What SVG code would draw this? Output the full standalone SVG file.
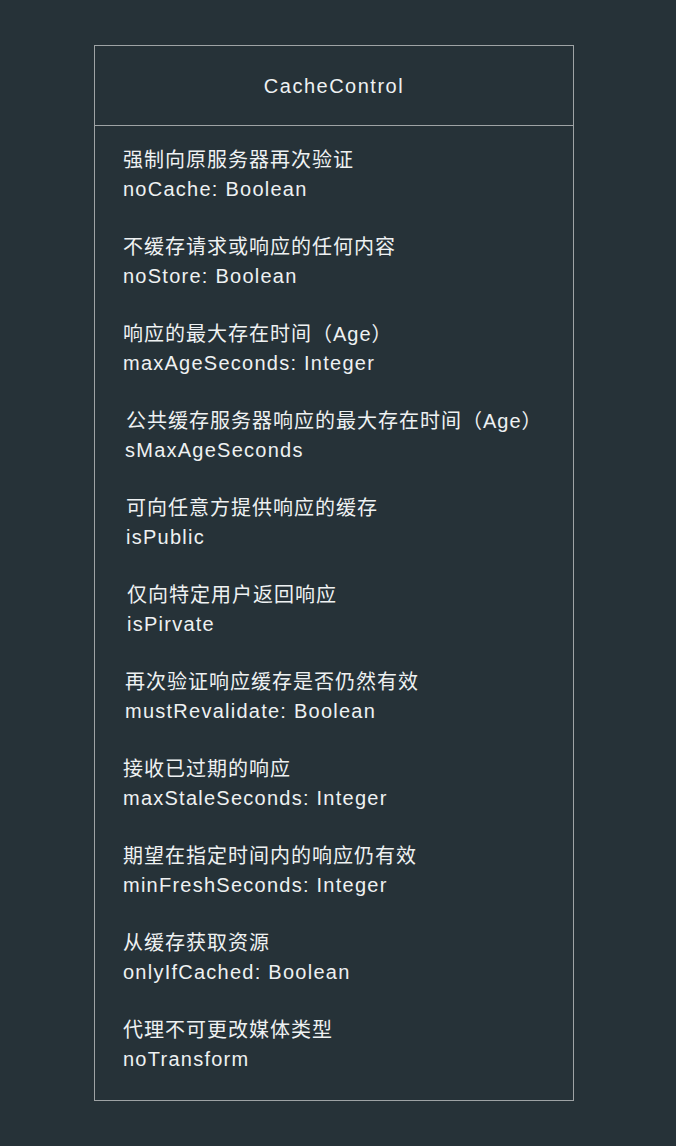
<svg xmlns="http://www.w3.org/2000/svg" width="676" height="1146" viewBox="0 0 676 1146">
<style>
.bg{fill:#263238}
.box{fill:none;stroke:#9ea3a5;stroke-width:1}
text{fill:#eef1f2;font-family:"Liberation Sans","Noto Sans CJK SC",sans-serif;font-size:20px}
.zh{letter-spacing:1px}
.en{letter-spacing:1.25px}
.title{letter-spacing:1.5px}
</style>
<rect class="bg" x="0" y="0" width="676" height="1146"/>
<g id="CacheControl">
<rect class="box" x="94.5" y="45.5" width="479" height="1055"/>
<line class="box" x1="94.5" y1="125.5" x2="573.5" y2="125.5"/>
<text class="title" x="334" y="93" text-anchor="middle">CacheControl</text>
<text class="zh" x="123" y="167">强制向原服务器再次验证</text>
<text class="en" x="123" y="196">noCache: Boolean</text>
<text class="zh" x="123" y="254">不缓存请求或响应的任何内容</text>
<text class="en" x="123" y="283">noStore: Boolean</text>
<text class="zh" x="123" y="341">响应的最大存在时间（Age）</text>
<text class="en" x="123" y="370">maxAgeSeconds: Integer</text>
<text class="zh" x="126" y="428">公共缓存服务器响应的最大存在时间（Age）</text>
<text class="en" x="125" y="457">sMaxAgeSeconds</text>
<text class="zh" x="126" y="515">可向任意方提供响应的缓存</text>
<text class="en" x="126" y="544">isPublic</text>
<text class="zh" x="127" y="602">仅向特定用户返回响应</text>
<text class="en" x="127" y="631">isPirvate</text>
<text class="zh" x="125" y="689">再次验证响应缓存是否仍然有效</text>
<text class="en" x="125" y="718">mustRevalidate: Boolean</text>
<text class="zh" x="123" y="776">接收已过期的响应</text>
<text class="en" x="123" y="805">maxStaleSeconds: Integer</text>
<text class="zh" x="123" y="863">期望在指定时间内的响应仍有效</text>
<text class="en" x="123" y="892">minFreshSeconds: Integer</text>
<text class="zh" x="123" y="950">从缓存获取资源</text>
<text class="en" x="123" y="979">onlyIfCached: Boolean</text>
<text class="zh" x="123" y="1037">代理不可更改媒体类型</text>
<text class="en" x="123" y="1066">noTransform</text>
</g>
<g id="connectors"/>
</svg>
